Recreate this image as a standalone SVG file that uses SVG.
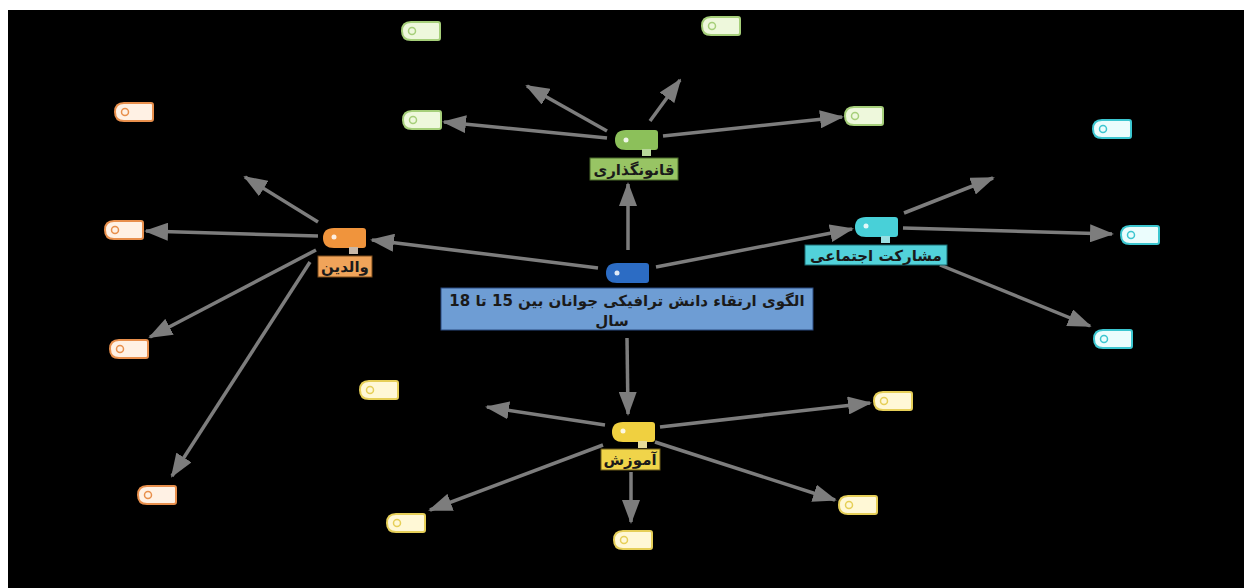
<svg xmlns="http://www.w3.org/2000/svg" width="1244" height="588" viewBox="0 0 1244 588">
<style>
.bg{fill:#000}
.edge{stroke:#7d7d7d;stroke-width:3.5;fill:none;marker-end:url(#ah)}
.lbl{font-family:"DejaVu Sans","Noto Sans",sans-serif;font-weight:bold;font-size:15px;fill:#1a1a1a;direction:rtl;text-anchor:middle}
.dot{fill:#fff;opacity:.85}
.lg{fill:#eef8dc;stroke:#a6cf7a;stroke-width:2}
.lo{fill:#fff1e4;stroke:#e88f4c;stroke-width:2}
.lc{fill:#ebfdfd;stroke:#3cc6d0;stroke-width:2}
.ly{fill:#fff8d6;stroke:#e6cf58;stroke-width:2}
.cg{fill:none;stroke:#a6cf7a;stroke-width:1.5}
.co{fill:none;stroke:#e88f4c;stroke-width:1.5}
.cc{fill:none;stroke:#3cc6d0;stroke-width:1.5}
.cy{fill:none;stroke:#e6cf58;stroke-width:1.5}
</style>
<defs>
<marker id="ah" markerUnits="userSpaceOnUse" markerWidth="24" markerHeight="18" viewBox="0 0 24 18" refX="22" refY="9" orient="auto">
<path d="M0,0 L24,9 L0,18 z" fill="#7d7d7d"/>
</marker>
<path id="leaf" d="M9,0 H36 Q38,0 38,2 V16 Q38,18 36,18 H9 Q0,18 0,9 Q0,0 9,0 z"/>
<path id="hub" d="M11,0 H40 Q43,0 43,3 V17 Q43,20 40,20 H11 Q0,20 0,10 Q0,0 11,0 z"/>
</defs>
<rect width="1244" height="588" fill="#fff"/>
<rect class="bg" x="8" y="10" width="1236" height="578"/>

<g id="connectors">
<line class="edge" x1="628" y1="250" x2="628" y2="184"/>
<line class="edge" x1="598" y1="268" x2="372" y2="240"/>
<line class="edge" x1="656" y1="267" x2="852" y2="229"/>
<line class="edge" x1="627" y1="338" x2="628" y2="414"/>

<line class="edge" x1="607" y1="138" x2="444" y2="122"/>
<line class="edge" x1="607" y1="131" x2="527" y2="86"/>
<line class="edge" x1="650" y1="121" x2="680" y2="80"/>
<line class="edge" x1="663" y1="136" x2="842" y2="117"/>

<line class="edge" x1="318" y1="222" x2="245" y2="177"/>
<line class="edge" x1="318" y1="236" x2="146" y2="231"/>
<line class="edge" x1="316" y1="250" x2="150" y2="337"/>
<line class="edge" x1="310" y1="262" x2="172" y2="476"/>

<line class="edge" x1="904" y1="213" x2="993" y2="178"/>
<line class="edge" x1="903" y1="228" x2="1112" y2="234"/>
<line class="edge" x1="940" y1="265" x2="1090" y2="326"/>

<line class="edge" x1="605" y1="425" x2="487" y2="407"/>
<line class="edge" x1="660" y1="427" x2="870" y2="403"/>
<line class="edge" x1="603" y1="445" x2="430" y2="510"/>
<line class="edge" x1="655" y1="442" x2="835" y2="500"/>
<line class="edge" x1="631" y1="472" x2="631" y2="522"/>
</g>

<g id="root">
<use href="#hub" x="606" y="263" fill="#2c6cc4"/>
<circle class="dot" cx="617" cy="273" r="2.5"/>
<rect x="441" y="288" width="372" height="42" fill="#6e9dd4" stroke="#2a4a80" stroke-width="1"/>
<text class="lbl" x="627" y="306" font-size="16.5" fill="#101828">الگوی ارتقاء دانش ترافیکی جوانان بین 15 تا 18</text>
<text class="lbl" x="612" y="326" font-size="16.5" fill="#101828">سال</text>
</g>

<g id="n-qanun">
<use href="#hub" x="615" y="130" fill="#8cc05a"/>
<rect x="642" y="149" width="9" height="7" fill="#b8d89a"/>
<circle class="dot" cx="626" cy="140" r="2.5"/>
<rect x="590" y="158" width="88" height="22" fill="#98c464" stroke="#4a6a2a" stroke-width="1"/>
<text class="lbl" x="634" y="175">قانونگذاری</text>
</g>

<g id="n-valedein">
<use href="#hub" x="323" y="228" fill="#f0943c"/>
<rect x="349" y="247" width="9" height="7" fill="#c8b8a8"/>
<circle class="dot" cx="334" cy="237" r="2.5"/>
<rect x="318" y="256" width="54" height="21" fill="#f0a45a" stroke="#7a4a1a" stroke-width="1"/>
<text class="lbl" x="345" y="272">والدین</text>
</g>

<g id="n-mosharekat">
<use href="#hub" x="855" y="217" fill="#48d0d8"/>
<rect x="881" y="236" width="9" height="7" fill="#9adfe2"/>
<circle class="dot" cx="866" cy="226" r="2.5"/>
<rect x="805" y="245" width="142" height="20" fill="#52d2da" stroke="#1a6a70" stroke-width="1"/>
<text class="lbl" x="876" y="261">مشارکت اجتماعی</text>
</g>

<g id="n-amuzesh">
<use href="#hub" x="612" y="422" fill="#f0d040"/>
<rect x="638" y="441" width="9" height="7" fill="#e8dc9a"/>
<circle class="dot" cx="623" cy="431" r="2.5"/>
<rect x="601" y="449" width="59" height="21" fill="#f0d44a" stroke="#6a5a1a" stroke-width="1"/>
<text class="lbl" x="630" y="465">آموزش</text>
</g>

<g id="leaf-g1"><use href="#leaf" class="lg" x="402" y="22"/><circle class="cg" cx="412" cy="31" r="3.5"/></g>
<g id="leaf-g2"><use href="#leaf" class="lg" x="702" y="17"/><circle class="cg" cx="712" cy="26" r="3.5"/></g>
<g id="leaf-g3"><use href="#leaf" class="lg" x="403" y="111"/><circle class="cg" cx="413" cy="120" r="3.5"/></g>
<g id="leaf-g4"><use href="#leaf" class="lg" x="845" y="107"/><circle class="cg" cx="855" cy="116" r="3.5"/></g>

<g id="leaf-o1"><use href="#leaf" class="lo" x="115" y="103"/><circle class="co" cx="125" cy="112" r="3.5"/></g>
<g id="leaf-o2"><use href="#leaf" class="lo" x="105" y="221"/><circle class="co" cx="115" cy="230" r="3.5"/></g>
<g id="leaf-o3"><use href="#leaf" class="lo" x="110" y="340"/><circle class="co" cx="120" cy="349" r="3.5"/></g>
<g id="leaf-o4"><use href="#leaf" class="lo" x="138" y="486"/><circle class="co" cx="148" cy="495" r="3.5"/></g>

<g id="leaf-c1"><use href="#leaf" class="lc" x="1093" y="120"/><circle class="cc" cx="1103" cy="129" r="3.5"/></g>
<g id="leaf-c2"><use href="#leaf" class="lc" x="1121" y="226"/><circle class="cc" cx="1131" cy="235" r="3.5"/></g>
<g id="leaf-c3"><use href="#leaf" class="lc" x="1094" y="330"/><circle class="cc" cx="1104" cy="339" r="3.5"/></g>

<g id="leaf-y1"><use href="#leaf" class="ly" x="360" y="381"/><circle class="cy" cx="370" cy="390" r="3.5"/></g>
<g id="leaf-y2"><use href="#leaf" class="ly" x="874" y="392"/><circle class="cy" cx="884" cy="401" r="3.5"/></g>
<g id="leaf-y3"><use href="#leaf" class="ly" x="387" y="514"/><circle class="cy" cx="397" cy="523" r="3.5"/></g>
<g id="leaf-y4"><use href="#leaf" class="ly" x="839" y="496"/><circle class="cy" cx="849" cy="505" r="3.5"/></g>
<g id="leaf-y5"><use href="#leaf" class="ly" x="614" y="531"/><circle class="cy" cx="624" cy="540" r="3.5"/></g>
</svg>
